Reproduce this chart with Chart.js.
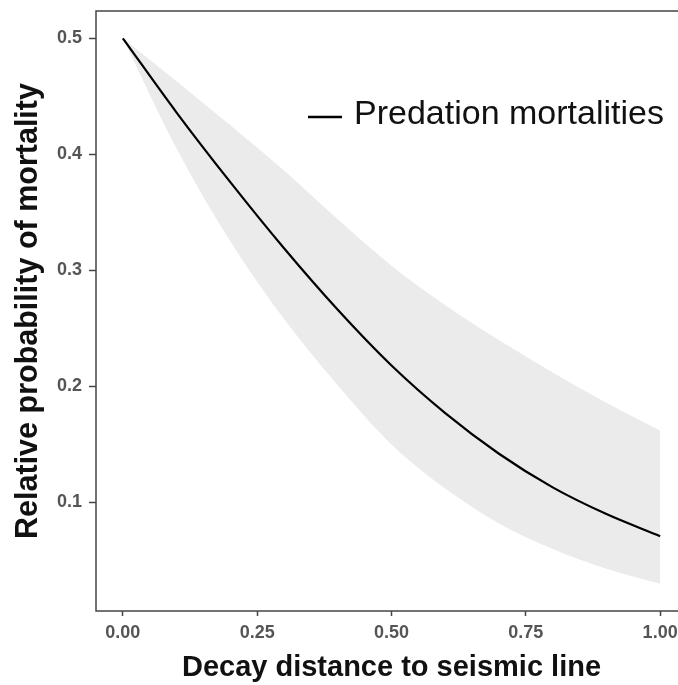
<!DOCTYPE html>
<html>
<head>
<meta charset="utf-8">
<title>Predation mortalities</title>
<script src="https://cdn.jsdelivr.net/npm/chart.js@4/dist/chart.umd.min.js"></script>
<style>
    html, body { margin: 0; padding: 0; background: #fff; overflow: hidden; }
    #wrap { width: 700px; height: 685px; }
</style>
</head>
<body>
<div id="wrap"><canvas id="mortalityChart" width="700" height="685"></canvas></div>
<script>
// Values
const distance = [0, 0.1, 0.2, 0.3, 0.4, 0.5, 0.6, 0.7, 0.8, 0.9, 1.0];
const fitted   = [0.500, 0.436, 0.376, 0.319, 0.266, 0.218, 0.177, 0.142, 0.113, 0.090, 0.071];
const upperCI  = [0.500, 0.463, 0.425, 0.386, 0.344, 0.304, 0.270, 0.240, 0.212, 0.186, 0.162];
const lowerCI  = [0.500, 0.405, 0.325, 0.258, 0.201, 0.150, 0.112, 0.082, 0.060, 0.043, 0.030];

const xTicks = [0, 0.25, 0.5, 0.75, 1.0];
const yTicks = [0.1, 0.2, 0.3, 0.4, 0.5];

const seriesLabel = 'Predation mortalities';
const xTitle = 'Decay distance to seismic line';
const yTitle = 'Relative probability of mortality';

(function() {
    'use strict';

    const FONT = '"Liberation Sans", Arial, sans-serif';
    const BAND = '#ebebeb';
    const FRAME = '#454545';

    /**
     * Pair x positions with a series for a linear x axis
     */
    function toPoints(ys) {
        return distance.map((x, i) => ({ x: x, y: ys[i] }));
    }

    /**
     * Panel border drawn around the whole plot area
     */
    const framePlugin = {
        id: 'panelFrame',
        afterDatasetsDraw(chart) {
            const a = chart.chartArea;
            const ctx = chart.ctx;
            ctx.save();
            ctx.strokeStyle = FRAME;
            ctx.lineWidth = 1.5;
            ctx.strokeRect(a.left, a.top, a.right - a.left, a.bottom - a.top);
            ctx.restore();
        }
    };

    /**
     * Legend key placed inside the panel, like the original
     */
    const keyPlugin = {
        id: 'insideKey',
        afterDraw(chart) {
            const ds = chart.data.datasets[0];
            const ctx = chart.ctx;
            ctx.save();
            ctx.strokeStyle = ds.borderColor;
            ctx.lineWidth = 2.5;
            ctx.beginPath();
            ctx.moveTo(308, 117);
            ctx.lineTo(342, 117);
            ctx.stroke();
            ctx.fillStyle = '#111';
            ctx.font = '34px ' + FONT;
            ctx.textBaseline = 'middle';
            ctx.textAlign = 'left';
            ctx.fillText(ds.label, 354, 115);
            ctx.restore();
        }
    };

    function initChart() {
        const ctx = document.getElementById('mortalityChart');
        if (!ctx) return;

        new Chart(ctx.getContext('2d'), {
            type: 'line',
            data: {
                datasets: [{
                    label: seriesLabel,
                    data: toPoints(fitted),
                    borderColor: '#000',
                    borderWidth: 2.2,
                    pointRadius: 0,
                    fill: false,
                    cubicInterpolationMode: 'monotone'
                }, {
                    label: 'upper',
                    data: toPoints(upperCI),
                    borderWidth: 0,
                    borderColor: 'rgba(0,0,0,0)',
                    backgroundColor: BAND,
                    pointRadius: 0,
                    fill: '+1',
                    cubicInterpolationMode: 'monotone'
                }, {
                    label: 'lower',
                    data: toPoints(lowerCI),
                    borderWidth: 0,
                    borderColor: 'rgba(0,0,0,0)',
                    pointRadius: 0,
                    fill: false,
                    cubicInterpolationMode: 'monotone'
                }]
            },
            options: {
                responsive: false,
                devicePixelRatio: 1,
                animation: false,
                layout: { padding: { top: 11, right: 13, bottom: 0, left: 0 } },
                plugins: {
                    legend: { display: false },
                    tooltip: { enabled: false }
                },
                scales: {
                    x: {
                        type: 'linear',
                        min: -0.05,
                        max: 1.05,
                        afterFit: scale => {
                            scale.height = 74;
                            scale.paddingLeft = 0;
                            scale.paddingRight = 0;
                        },
                        afterBuildTicks: scale => {
                            scale.ticks = xTicks.map(v => ({ value: v }));
                        },
                        grid: {
                            drawOnChartArea: false,
                            drawTicks: true,
                            tickLength: 5,
                            tickColor: FRAME,
                            tickWidth: 1.5
                        },
                        border: { display: false },
                        ticks: {
                            padding: 6,
                            maxRotation: 0,
                            color: '#555',
                            font: { family: FONT, size: 18, weight: 'bold' },
                            callback: v => Number(v).toFixed(2)
                        },
                        title: {
                            display: true,
                            text: xTitle,
                            color: '#111',
                            font: { family: FONT, size: 29, weight: 'bold', lineHeight: 1.2 },
                            padding: { top: 0, bottom: 0 }
                        }
                    },
                    y: {
                        type: 'linear',
                        min: 0.0065,
                        max: 0.5235,
                        afterFit: scale => {
                            scale.width = 96;
                            scale.paddingTop = 0;
                            scale.paddingBottom = 0;
                        },
                        afterBuildTicks: scale => {
                            scale.ticks = yTicks.map(v => ({ value: v }));
                        },
                        grid: {
                            drawOnChartArea: false,
                            drawTicks: true,
                            tickLength: 7,
                            tickColor: FRAME,
                            tickWidth: 1.5
                        },
                        border: { display: false },
                        ticks: {
                            padding: 7,
                            color: '#555',
                            font: { family: FONT, size: 18, weight: 'bold' },
                            callback: v => Number(v).toFixed(1)
                        },
                        title: {
                            display: true,
                            text: yTitle,
                            color: '#111',
                            font: { family: FONT, size: 30.5, weight: 'bold', lineHeight: 1.2 },
                            padding: { top: 10, bottom: 0 }
                        }
                    }
                }
            },
            plugins: [framePlugin, keyPlugin]
        });
    }

    document.addEventListener('DOMContentLoaded', initChart);
})();
</script>
</body>
</html>
